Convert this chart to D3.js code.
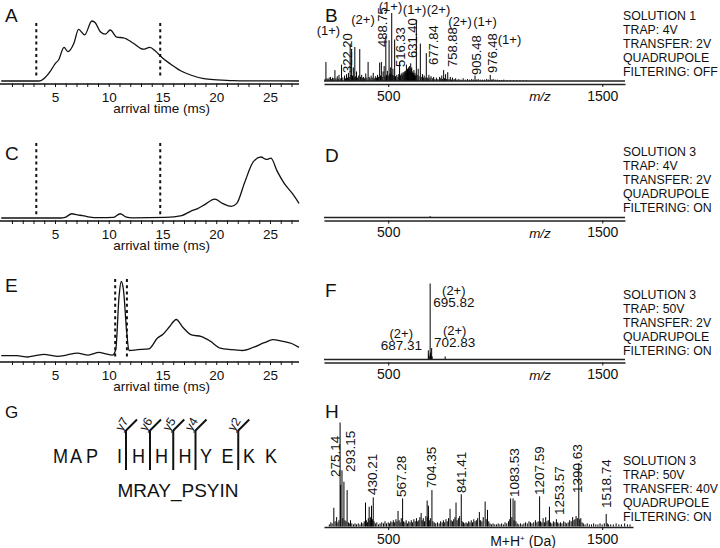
<!DOCTYPE html>
<html><head><meta charset="utf-8">
<script src="https://cdn.jsdelivr.net/npm/d3@7"></script>
<style>
body{margin:0;background:#fff}
svg{display:block}
text{font-family:"Liberation Sans",Arial,Helvetica,sans-serif;fill:#111}
</style></head><body>
<svg id="fig" width="720" height="548"></svg>
<script>
// ---------------- DATA ----------------
const timeMajorTicks = [5, 10, 15, 20, 25];
const timeMinorTicks = d3.range(1, 28);
const mzTicks = [500, 1500];

// arrival-time distributions: [time (ms), relative intensity %]
const traceA = [[0,0],[3.49,0],[3.69,0.5],[4.1,6],[4.56,16],[5.02,29],[5.33,35],[5.84,56],[6.2,49],[6.76,63],[7.19,86],[7.76,77],[8.43,100],[8.75,97],[9.22,82],[9.68,78],[10.14,85],[10.75,73],[11.37,72],[12.29,63],[13.21,53],[13.82,56],[14.34,50],[14.95,39],[15.77,28],[16.69,17],[17.61,10],[18.84,4],[20.07,2],[21.6,0.5],[23.44,0.2],[27.7,0]];
const traceC = [[0,0],[5.53,0],[5.94,1],[6.56,7],[7.07,5],[7.58,4],[8.09,2],[9.12,0.5],[10.45,1],[11.06,7],[11.57,2],[12.19,0.3],[15.26,1],[16.79,4],[17.61,11],[18.22,15],[18.94,22],[19.86,31],[20.58,24],[21.4,19],[21.91,24],[22.62,57],[23.44,92],[24.16,100],[24.67,96],[25.08,98],[25.69,76],[26.31,57],[27.13,39],[27.7,24]];
const traceE = [[0,4.3],[1.44,4.3],[2.47,2.6],[3.18,4.3],[4.0,6],[4.51,5],[5.23,3.4],[6.05,5],[7.07,7.7],[8.09,5],[9.12,8.6],[9.63,7],[10.34,5],[10.65,12],[10.96,81],[11.16,100],[11.37,89],[11.67,35],[11.88,11],[12.7,12],[13.72,13],[14.54,27],[15.05,32],[15.67,42],[16.28,51],[16.89,41],[17.71,31],[18.63,29],[19.45,23],[20.37,14],[21.4,12],[22.42,11],[23.44,15],[24.47,21],[25.28,25],[26.1,23],[27.02,20],[27.7,15]];
// selected arrival-time windows (ms)
const windowA = [3.26, 14.79];
const windowC = [3.26, 14.79];
const windowE = [10.6, 11.69];

// mass spectra: [m/z, relative intensity %]
const specB = [[205,3],[209,28],[214,4],[219,3],[224,5],[230,6],[236,3],[240,5],[246,4],[251,16],[256,4],[262,7],[266,3],[270,9],[276,4],[282,24],[288,5],[296,8],[301,4],[305,10],[310,5],[314,12],[318,6],[322.2,55],[326,9],[329,47],[333,8],[337,20],[341,6],[344,50],[348,7],[352,14],[357,5],[362,8],[367,47],[371,6],[376,9],[381,5],[385,6],[390,4],[395,11],[400,5],[406,28],[411,6],[415,4],[420,8],[425,5],[430,12],[435,4],[440,7],[445,5],[450,9],[455,6],[460,27],[464,8],[468,28],[472,6],[476,14],[481,22],[485,7],[488.75,66],[492,9],[496,15],[500,8],[504,60],[507,10],[510,20],[513,12],[516.33,100],[519,9],[522,18],[526,8],[530,61],[534,7],[540,9],[545,6],[549,10],[553,28],[557,8],[560,10],[564,12],[568,9],[570,13],[574,11],[577,14],[580,15],[583,12],[585,24],[588,16],[590,18],[593,14],[595,20],[598,17],[600,22],[603,15],[605,26],[608,18],[610,20],[613,12],[615,14],[618,11],[620,16],[623,9],[625,12],[628,8],[631.4,90],[635,9],[640,18],[644,7],[650,55],[654,6],[660,10],[664,5],[668,8],[673,5],[677.84,41],[682,5],[686,4],[690,9],[695,5],[700,7],[706,4],[712,6],[718,3],[725,5],[732,3],[740,6],[745,4],[750,8],[754,3],[758.88,16],[763,4],[768,10],[773,3],[778,13],[784,3],[790,6],[795,2],[800,5],[808,3],[815,4],[822,2],[830,3],[840,2],[850,4],[860,2],[870,3],[880,2],[890,3],[898,2],[905.48,8],[912,2],[920,3],[930,2],[940,2],[950,2],[960,3],[968,2],[976.48,9],[983,2],[990,3],[1000,2],[1010,2],[1020,1.5],[1030,1.5],[1040,2],[1055,1.5],[1070,1.5],[1085,1],[1100,1.5],[1115,1],[1130,1],[1145,1]];
const specD = [[695.8,2]];
const specF = [[687.31,12],[689.5,7],[691.5,4],[695.82,100],[697.5,9],[699.5,5],[702.83,15],[705,4],[766,4]];
const specH = [[225,2],[232,4],[238,3],[246,18],[252,5],[259,9],[265,4],[270,6],[275.14,100],[278,40],[284,54],[288,8],[293.15,43],[298,6],[303,5],[308,35],[314,4],[318,3],[324,6],[330,3],[338,2],[345,3],[352,2],[360,3],[368,2],[375,4],[382,3],[388,5],[394,23],[398,6],[403,4],[407,8],[411,19],[415,6],[418,9],[422,20],[426,7],[430.21,28],[434,5],[440,3],[447,4],[455,2],[462,3],[470,4],[478,3],[485,5],[492,3],[500,4],[506,3],[512,5],[518,4],[524,6],[530,4],[536,7],[541,5],[546,15],[551,6],[556,4],[561,8],[567.28,27],[572,5],[578,4],[584,6],[590,3],[596,5],[602,4],[608,6],[614,4],[620,7],[626,5],[632,8],[638,5],[643,6],[648,9],[654,13],[659,6],[664,8],[670,5],[676,10],[682,25],[685,9],[688,20],[692,6],[697,8],[704.35,35],[709,5],[715,4],[722,3],[730,4],[738,3],[745,5],[752,4],[758,6],[764,4],[770,7],[776,5],[782,8],[789,17],[794,6],[800,5],[806,7],[812,9],[817,23],[822,6],[828,8],[834,10],[841.41,31],[846,5],[852,4],[858,3],[864,4],[870,3],[876,5],[882,4],[888,6],[894,4],[900,7],[906,5],[912,6],[918,8],[926,14],[932,6],[938,5],[944,9],[953,24],[958,7],[964,16],[970,5],[976,3],[983,2],[990,3],[998,2],[1006,2],[1014,3],[1022,2],[1030,3],[1038,2],[1046,4],[1054,3],[1062,5],[1068,7],[1072,27],[1078,9],[1083.53,27],[1088,6],[1092,25],[1097,5],[1103,3],[1110,2],[1118,3],[1126,2],[1134,3],[1142,4],[1150,3],[1158,5],[1165,4],[1172,3],[1180,4],[1188,6],[1195,4],[1201,5],[1207.59,29],[1212,5],[1218,4],[1224,8],[1230,4],[1236,9],[1242,5],[1248,6],[1253.57,19],[1258,4],[1265,3],[1272,5],[1279,4],[1286,7],[1292,4],[1298,3],[1305,4],[1312,3],[1320,5],[1327,4],[1334,3],[1341,4],[1348,6],[1355,5],[1362,9],[1368,6],[1373,7],[1378,10],[1384,8],[1390.63,61],[1395,7],[1400,8],[1406,4],[1412,3],[1420,2],[1430,3],[1440,2],[1450,2],[1460,3],[1470,2],[1480,2],[1490,3],[1500,2],[1510,3],[1518.74,12],[1524,3],[1530,2],[1540,2],[1552,2],[1565,3],[1578,2],[1590,2],[1605,3],[1618,2],[1630,2]];

// annotated peaks
const peaksB = [322.20, 488.75, 516.33, 631.40, 677.84, 758.88, 905.48, 976.48];
const chargesB = ["(1+)", "(2+)", "(1+)", "(1+)", "(2+)", "(2+)", "(1+)", "(1+)"];
const peaksF = [687.31, 695.82, 702.83];
const chargesF = ["(2+)", "(2+)", "(2+)"];
const peaksH = [275.14, 293.15, 430.21, 567.28, 704.35, 841.41, 1083.53, 1207.59, 1253.57, 1390.63, 1518.74];

const infoB = ["SOLUTION 1", "TRAP: 4V", "TRANSFER: 2V", "QUADRUPOLE", "FILTERING: OFF"];
const infoD = ["SOLUTION 3", "TRAP: 4V", "TRANSFER: 2V", "QUADRUPOLE", "FILTERING: ON"];
const infoF = ["SOLUTION 3", "TRAP: 50V", "TRANSFER: 2V", "QUADRUPOLE", "FILTERING: ON"];
const infoH = ["SOLUTION 3", "TRAP: 50V", "TRANSFER: 40V", "QUADRUPOLE", "FILTERING: ON"];

const residues = ["M","A","P","I","H","H","H","Y","E","K","K"];
const yIons = [{before:4, label:"y7"},{before:5, label:"y6"},{before:6, label:"y5"},{before:7, label:"y4"},{before:9, label:"y2"}];
const proteinName = "MRAY_PSYIN";

// ---------------- LAYOUT (positions / styles) ----------------
const svg = d3.select("#fig");
const INK = "#111";
const FONT = '"Liberation Sans",Arial,sans-serif';

const tScale = d3.scaleLinear().domain([0, 27.7]).range([1.25, 299]);
const mzScale = d3.scaleLinear().domain([200, 1606]).range([324, 625]);
const mzScaleH = d3.scaleLinear().domain([200, 1644]).range([324, 633]);

function letter(txt, x, y, size) {
  svg.append("text").attr("x", x).attr("y", y).attr("font-size", size || 19).text(txt);
}

// ----- left: arrival time panels -----
function drawATD(data, win, axisY, h, dash) {
  const zero = axisY - 2.5;
  const y = d3.scaleLinear().domain([0, 100]).range([zero, zero - h]);
  const g = svg.append("g");
  g.append("path").datum(data)
    .attr("d", d3.line().x(d => tScale(d[0])).y(d => y(d[1])).curve(d3.curveMonotoneX))
    .attr("fill", "none").attr("stroke", INK).attr("stroke-width", 1.3);
  g.selectAll("line.win").data(win).join("line")
    .attr("x1", d => tScale(d)).attr("x2", d => tScale(d))
    .attr("y1", axisY + dash[0]).attr("y2", axisY + dash[1])
    .attr("stroke", INK).attr("stroke-width", 2).attr("stroke-dasharray", "3,3.2");
  const ax = g.append("g").attr("transform", `translate(0,${axisY})`)
    .call(d3.axisBottom(tScale).tickValues(timeMinorTicks).tickSize(3.5).tickSizeOuter(0).tickPadding(5.5)
      .tickFormat(d => timeMajorTicks.includes(d) ? d : ""));
  ax.select(".domain").attr("stroke", INK).attr("stroke-width", 1.3).attr("d", `M0,0.5H299`);
  ax.selectAll(".tick line").attr("stroke", INK).attr("stroke-width", 1);
  ax.selectAll(".tick text").attr("font-size", 13.5).attr("fill", INK).attr("font-family", FONT);
  g.append("text").attr("x", 161.5).attr("y", axisY + 29.5).attr("text-anchor", "middle")
    .attr("font-size", 13.5).text("arrival time (ms)");
}
drawATD(traceA, windowA, 83.5, 60, [-60.5, -7]);
drawATD(traceC, windowC, 220.5, 61, [-77.5, -3]);
drawATD(traceE, windowE, 361.5, 77.5, [-82.5, -2]);

// ----- right: mass spectra -----
function drawSpectrum(data, sx, zero, axisY, h, doubleLine, xlabel) {
  const y = d3.scaleLinear().domain([0, 100]).range([zero, zero - h]);
  const g = svg.append("g");
  g.selectAll("line.pk").data(data).join("line")
    .attr("x1", d => sx(d[0])).attr("x2", d => sx(d[0]))
    .attr("y1", zero).attr("y2", d => y(d[1]))
    .attr("stroke", "#000").attr("stroke-width", 1);
  const [x0, x1] = sx.range();
  if (doubleLine) {
    g.append("line").attr("x1", x0).attr("x2", x1).attr("y1", zero).attr("y2", zero)
      .attr("stroke", "#222").attr("stroke-width", 1.3);
  }
  const ax = g.append("g").attr("transform", `translate(0,${axisY})`)
    .call(d3.axisBottom(sx).tickValues(mzTicks).tickSize(3).tickSizeOuter(0).tickPadding(4)
      .tickFormat(d3.format("d")));
  ax.select(".domain").attr("stroke", "#222").attr("stroke-width", 1.3);
  ax.selectAll(".tick line").attr("stroke", INK);
  ax.selectAll(".tick text").attr("font-size", 14).attr("fill", INK).attr("font-family", FONT);
  if (xlabel === "mz") {
    g.append("text").attr("x", 540).attr("y", axisY + 17).attr("text-anchor", "middle")
      .attr("font-size", 13.5).attr("font-style", "italic").text("m/z");
  } else {
    const t = g.append("text").attr("x", 523).attr("y", axisY + 18.5).attr("text-anchor", "middle")
      .attr("font-size", 14);
    t.append("tspan").text("M+H");
    t.append("tspan").attr("dy", -5).attr("font-size", 8).text("+");
    t.append("tspan").attr("dy", 5).text(" (Da)");
  }
  return y;
}
function info(lines, y0) {
  svg.append("g").selectAll("text").data(lines).join("text")
    .attr("x", 623).attr("y", (d, i) => y0 + i * 14.1).attr("font-size", 12.3).text(d => d);
}
function rotLabel(x, y, txt, size) {
  svg.append("text").attr("transform", `translate(${x},${y}) rotate(-90)`)
    .attr("font-size", size).text(txt);
}

// B
drawSpectrum(specB, mzScale, 81, 84, 68, true, "mz");
const layoutB = [ // [label dx, label bottom dy, charge dx, charge dy] relative to peak x / zero line
  [1.5, -8, -21.7, -46], [1.2, -34, -22.8, -57], [13, -14, -1.2, -70.3], [0.5, -23, -1.8, -67],
  [12, -16, 12.2, -67], [13, -14, 16.4, -55], [6, -6, 10, -55], [7, -8, 19.3, -37]];
peaksB.forEach((mz, i) => {
  const x = mzScale(mz), L = layoutB[i];
  rotLabel(x + L[0], 81 + L[1], mz.toFixed(2), 13);
  svg.append("text").attr("x", x + L[2]).attr("y", 81 + L[3]).attr("text-anchor", "middle")
    .attr("font-size", 13).text(chargesB[i]);
});
info(infoB, 19.5);

// D
drawSpectrum(specD, mzScale, 217.5, 220.5, 68, true, "mz");
info(infoD, 156);

// F
drawSpectrum(specF, mzScale, 359.5, 362.5, 76, true, "mz");
const layoutF = [ // [dx, anchor, number baseline dy]
  [-6.4, "end", -9.5], [3, "start", -52.5], [2.4, "start", -12.5]];
peaksF.forEach((mz, i) => {
  const x = mzScale(mz), L = layoutF[i];
  const t = svg.append("text").attr("x", x + L[0]).attr("y", 359.5 + L[2])
    .attr("text-anchor", L[1]).attr("font-size", 13.5).text(mz.toFixed(2));
  const w = t.node().getComputedTextLength();
  const cx = L[1] === "end" ? x + L[0] - w / 2 : x + L[0] + w / 2;
  svg.append("text").attr("x", cx).attr("y", 359.5 + L[2] - 12.5).attr("text-anchor", "middle")
    .attr("font-size", 13).text(chargesF[i]);
});
info(infoF, 299);

// H
drawSpectrum(specH, mzScaleH, 526.5, 527, 104, false, "mh");
const layoutH = [[0,-49.5],[11,-54.5],[4,-31.5],[3.5,-29.5],[4.5,-38.5],[5,-33.5],[6,-29.5],[4.5,-31.5],[14.5,-11.5],[3,-33.5],[5,-18.5]];
peaksH.forEach((mz, i) => {
  const x = mzScaleH(mz), L = layoutH[i];
  rotLabel(x + L[0], 526.5 + L[1], mz.toFixed(2), 13.5);
});
info(infoH, 465);

// panel letters
letter("A", 5, 21.7); letter("C", 5, 160); letter("E", 5, 291.7); letter("G", 5, 418, 17);
letter("B", 325, 21.7); letter("D", 325, 161.7); letter("F", 325, 296.7); letter("H", 325, 418);

// ----- G: peptide sequence with y-ion cleavages -----
const resX = [60.5, 76, 92, 119.5, 138.5, 161.5, 185, 206, 227.5, 249, 271];
const seqBase = 463;
svg.append("g").selectAll("text").data(residues).join("text")
  .attr("transform", (d, i) => `translate(${resX[i]},${seqBase}) scale(0.86,1)`)
  .attr("text-anchor", "middle").attr("font-size", 21).text(d => d);
yIons.forEach(ion => {
  const x = (resX[ion.before - 1] + resX[ion.before]) / 2 + (ion.before === 4 ? -3 : 0);
  const g = svg.append("g");
  g.append("line").attr("x1", x).attr("x2", x).attr("y1", 470).attr("y2", 430)
    .attr("stroke", INK).attr("stroke-width", 2);
  g.append("line").attr("x1", x).attr("x2", x + 11).attr("y1", 430.5).attr("y2", 419.5)
    .attr("stroke", INK).attr("stroke-width", 2);
  g.append("text").attr("transform", `translate(${x - 4},${432}) rotate(-58)`)
    .attr("font-size", 12.5).text(ion.label);
});
svg.append("text").attr("x", 178).attr("y", 497).attr("text-anchor", "middle")
  .attr("font-size", 19).text(proteinName);
</script>
</body></html>
